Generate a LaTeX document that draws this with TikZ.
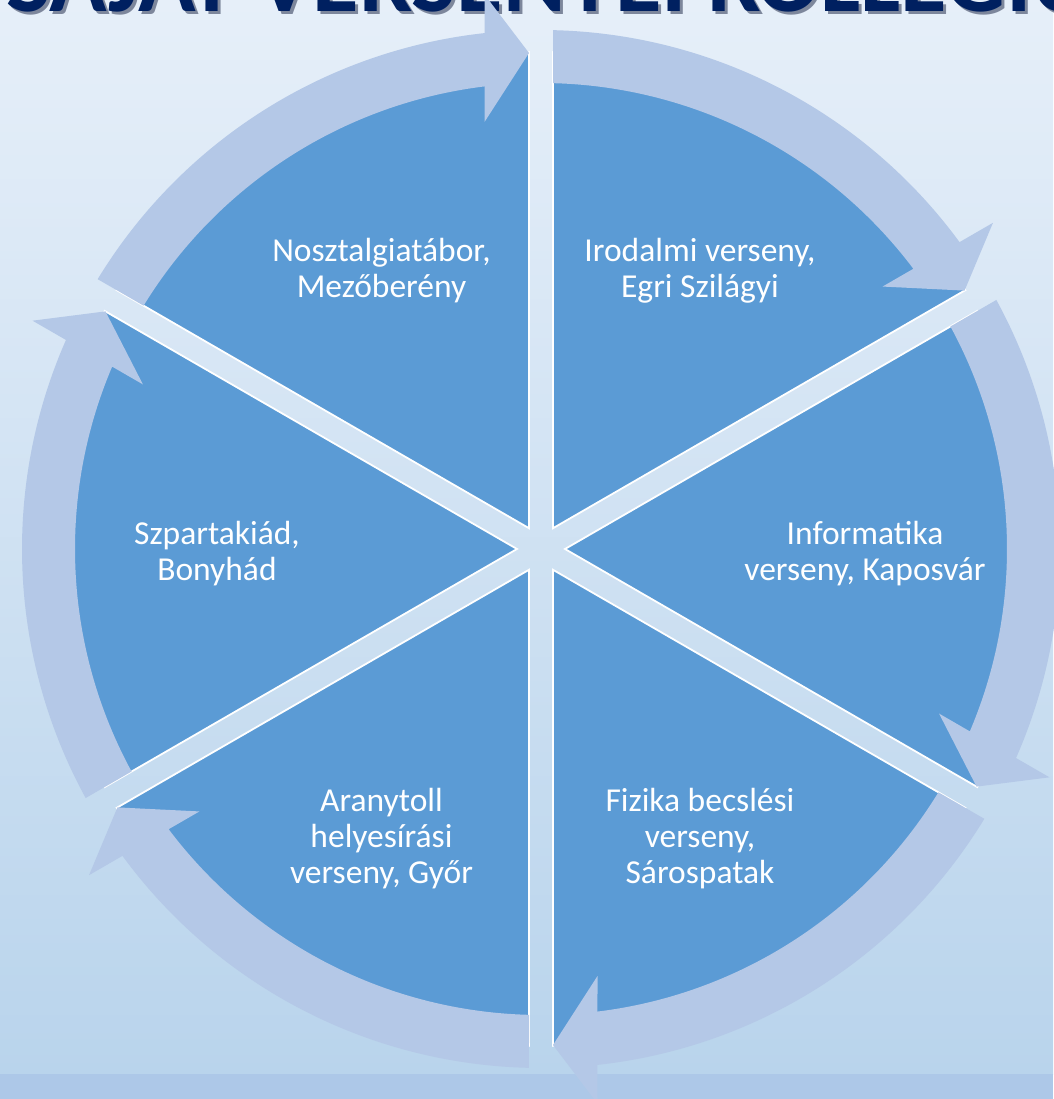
\documentclass[tikz,border=0pt]{standalone}
\usepackage{fontspec}
\setmainfont{Carlito}
\begin{document}
\definecolor{bgtop}{HTML}{E6EFF9}
\definecolor{bgbot}{HTML}{B9D4EC}
\definecolor{footer}{HTML}{ADC8E8}
\definecolor{pie}{HTML}{5B9BD5}
\definecolor{arrowc}{HTML}{B4C8E7}
\definecolor{titlec}{HTML}{002060}
\definecolor{shadowc}{HTML}{7D879C}
\newcommand{\shadowtext}[1]{\rlap{\hspace{3pt}\raisebox{-3pt}{\color{shadowc}#1}}#1}
\begin{tikzpicture}[x=1pt,y=1pt,
  sector/.style={fill=pie,draw=white,line width=1.8pt,line join=miter},
  ringarrow/.style={fill=arrowc},
  lbl/.style={text=white,align=center,font=\fontsize{33.5}{36}\selectfont,inner sep=0pt,anchor=base},
  ttl/.style={font=\fontsize{95}{95}\selectfont\bfseries,inner sep=0pt,anchor=base west}]
\useasboundingbox (-541,-550) rectangle (512,549);
% background
\shade[top color=bgtop,bottom color=bgbot] (-541,-525) rectangle (512,549);
\fill[footer] (-541,-550) rectangle (512,-525);
% title (cropped by the top edge)
\node[ttl,text=titlec] (title) at (-535,537) {\shadowtext{SAJÁT VERSENYEI KOLLÉGIUMI}};
% pie sectors
\foreach \a in {-90,-30,30,90,150,210}
  \filldraw[sector] (\a+30:24) -- (\a+1.384:497)
     arc[start angle=\a+1.384,end angle=\a+58.616,radius=497] -- cycle;
% ring arrows
\foreach \k in {0,...,5}{
  \begin{scope}[rotate=-60*\k]
    \fill[ringarrow] (148.675:519) arc[start angle=148.675,end angle=96.249,radius=519]
      -- (-56.5,554.5) -- (-12,496) -- (-56.5,427)
      -- (96.964:466) arc[start angle=96.964,end angle=148.524,radius=466] -- cycle;
  \end{scope}
}
% labels (anchor = baseline of the last line)
\node[lbl] (l1) at (-159.5,251) {Nosztalgiatábor,\\Mezőberény};
\node[lbl] (l2) at (159,251) {Irodalmi verseny,\\Egri Szilágyi};
\node[lbl] (l3) at (324,-32) {Informatika\\verseny, Kaposvár};
\node[lbl] (l4) at (159,-334) {Fizika becslési\\verseny,\\Sárospatak};
\node[lbl] (l5) at (-159.5,-334) {Aranytoll\\helyesírási\\verseny, Győr};
\node[lbl] (l6) at (-324,-32) {Szpartakiád,\\Bonyhád};
\end{tikzpicture}
\end{document}
